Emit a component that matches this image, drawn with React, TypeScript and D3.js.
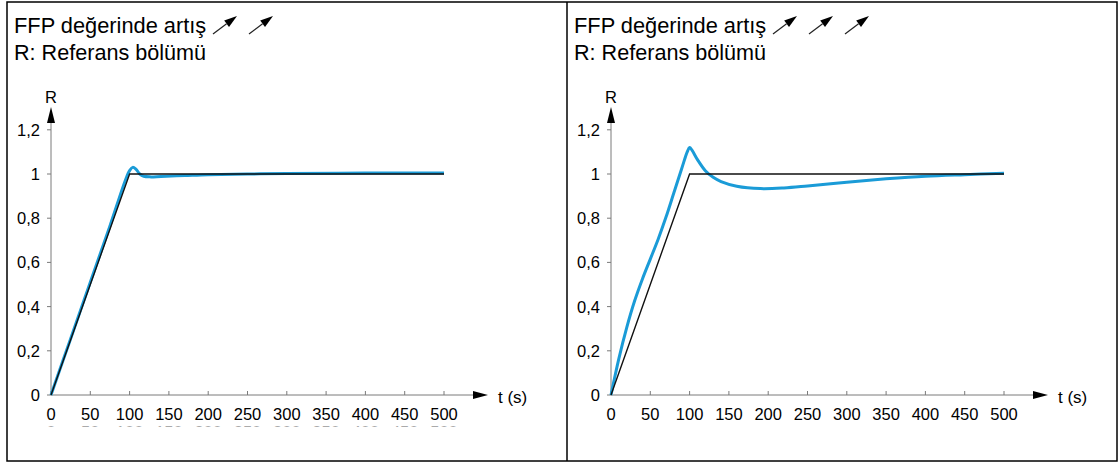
import React from "react";
import * as d3 from "d3";

const xTicks = [0, 50, 100, 150, 200, 250, 300, 350, 400, 450, 500];
const yTicks = [0, 0.2, 0.4, 0.6, 0.8, 1, 1.2];
const yTickLabels = ["0", "0,2", "0,4", "0,6", "0,8", "1", "1,2"];

const refT = [0, 100, 500];
const refR = [0, 1, 1];

const leftT = [0, 25, 50, 75, 95, 100, 104, 108, 113, 118, 126, 140, 170, 200, 250, 300, 400, 500];
const leftR = [0, 0.255, 0.51, 0.765, 0.975, 1.015, 1.03, 1.022, 1.0, 0.99, 0.987, 0.989, 0.993, 0.997, 1.0, 1.002, 1.004, 1.005];

const rightT = [0, 10, 20, 30, 40, 50, 60, 70, 80, 90, 97, 100, 103, 110, 120, 130, 140, 160, 190, 220, 250, 300, 350, 400, 450, 500];
const rightR = [0, 0.165, 0.305, 0.425, 0.525, 0.615, 0.705, 0.805, 0.915, 1.025, 1.1, 1.12, 1.108, 1.065, 1.015, 0.985, 0.966, 0.945, 0.934, 0.937, 0.946, 0.963, 0.978, 0.99, 0.997, 1.003];

const titleLine1 = "FFP değerinde artış";
const titleLine2 = "R: Referans bölümü";

const panels = [
  { dx: 0, t: leftT, r: leftR, arrows: 2, ghost: true },
  { dx: 560, t: rightT, r: rightR, arrows: 3, ghost: false },
];

const FONT = "'Liberation Sans', Arial, Helvetica, sans-serif";
const BLUE = "#1a9bd7";
const AXIS = "#7a7a7a";

function DiagArrow({ x, y }: { x: number; y: number }) {
  const x1 = x + 24, y1 = y - 18;
  const ang = Math.atan2(y1 - y, x1 - x);
  const L = 13, W = 4;
  const bx = x1 - L * Math.cos(ang), by = y1 - L * Math.sin(ang);
  const px = -Math.sin(ang) * W, py = Math.cos(ang) * W;
  return (
    <g>
      <line x1={x} y1={y} x2={bx} y2={by} stroke="#222" strokeWidth={1.2} />
      <polygon points={`${x1},${y1} ${bx + px},${by + py} ${bx - px},${by - py}`} fill="#000" />
    </g>
  );
}

function Panel({ dx, t, r, arrows, ghost }: any) {
  const x = d3.scaleLinear().domain([0, 500]).range([51 + dx, 444 + dx]);
  const y = d3.scaleLinear().domain([0, 1]).range([395, 174]);
  const line = d3.line<number>().x((_, i) => x(t[i])).y((v) => y(v)).curve(d3.curveCatmullRom.alpha(0.5));
  const refLine = d3.line<number>().x((_, i) => x(refT[i])).y((v) => y(v));
  const x0 = x(0), y0 = y(0);
  const clipId = `ghost${dx}`;
  return (
    <g fontFamily={FONT}>
      <text x={14 + dx} y={33} fontSize={21.8} fill="#000">{titleLine1}</text>
      <text x={14 + dx} y={60} fontSize={21.6} fill="#000">{titleLine2}</text>
      {d3.range(arrows).map((i) => (
        <DiagArrow key={i} x={213 + dx + i * 36} y={34} />
      ))}
      {/* y axis */}
      <line x1={x0} y1={y0} x2={x0} y2={118} stroke={AXIS} strokeWidth={1} />
      <polygon points={`${x0},107 ${x0 - 4},123 ${x0 + 4},123`} fill="#000" />
      <text x={x0} y={103} fontSize={16.5} textAnchor="middle">R</text>
      {yTicks.map((v, i) => (
        <g key={i}>
          <line x1={x0 - 4} x2={x0} y1={y(v)} y2={y(v)} stroke={AXIS} strokeWidth={1} />
          <text x={x0 - 11} y={y(v) + 6} fontSize={16.5} textAnchor="end">{yTickLabels[i]}</text>
        </g>
      ))}
      {/* x axis */}
      <line x1={x0} y1={y0} x2={x(500) + 33} y2={y0} stroke={AXIS} strokeWidth={1} />
      <polygon points={`${x(500) + 44},${y0} ${x(500) + 29},${y0 - 4} ${x(500) + 29},${y0 + 4}`} fill="#000" />
      <text x={x(500) + 54} y={y0 + 8} fontSize={17}>t (s)</text>
      {xTicks.map((v) => (
        <g key={v}>
          <line x1={x(v)} x2={x(v)} y1={y0} y2={y0 - 4} stroke={AXIS} strokeWidth={1} />
          <text x={x(v)} y={y0 + 25} fontSize={16.5} textAnchor="middle">{v}</text>
        </g>
      ))}
      {ghost && (
        <g>
          <defs>
            <clipPath id={clipId}>
              <rect x={dx} y={424} width={500} height={3} />
            </clipPath>
          </defs>
          <g clipPath={`url(#${clipId})`} fill="#aaa">
            {xTicks.map((v) => (
              <text key={v} x={x(v)} y={y0 + 43} fontSize={16.5} textAnchor="middle">{v}</text>
            ))}
          </g>
        </g>
      )}
      {/* curves */}
      <path d={line(r) || ""} fill="none" stroke={BLUE} strokeWidth={3} strokeLinejoin="round" />
      <path d={refLine(refR) || ""} fill="none" stroke="#111" strokeWidth={1.4} />
    </g>
  );
}

export default function App() {
  return (
    <svg width={1120} height={464} style={{ position: "absolute", left: 0, top: 0, background: "#fff" }}>
      <rect x={0} y={0} width={1120} height={464} fill="#fff" />
      {panels.map((p, i) => (
        <Panel key={i} {...p} />
      ))}
      <rect x={7} y={2} width={1110} height={459} fill="none" stroke="#000" strokeWidth={1.5} />
      <line x1={567} x2={567} y1={2} y2={461} stroke="#000" strokeWidth={1.5} />
    </svg>
  );
}
